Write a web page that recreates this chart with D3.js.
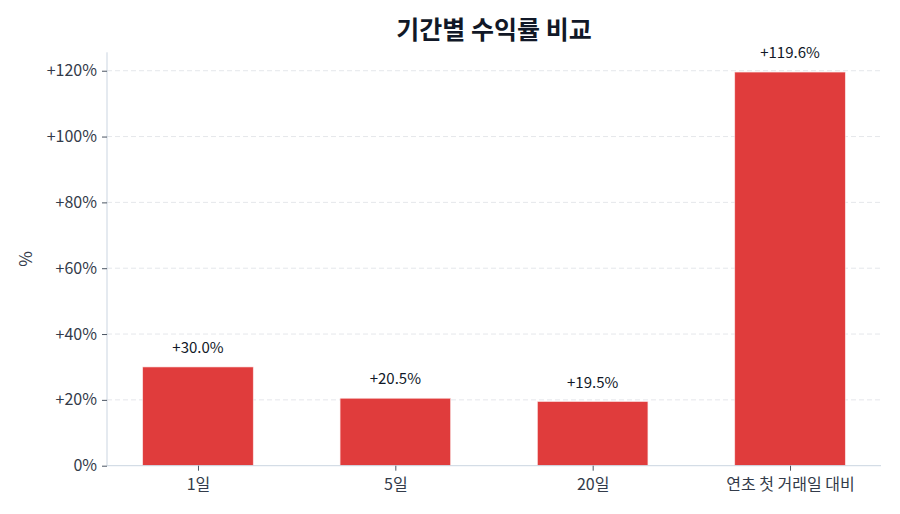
<!DOCTYPE html>
<html><head><meta charset="utf-8">
<script src="https://cdn.jsdelivr.net/npm/d3@7"></script>
<style>
html,body{margin:0;padding:0;background:#fff;}
svg{display:block;font-family:"Noto Sans CJK KR","Noto Sans",sans-serif;}
</style></head>
<body>
<svg id="chart" width="900" height="514"></svg>
<script>
const categories = ["1일", "5일", "20일", "연초 첫 거래일 대비"];
const returns = [30.0, 20.5, 19.5, 119.6];
const yTicks = [0, 20, 40, 60, 80, 100, 120];
const titleText = "기간별 수익률 비교";
const yLabel = "%";

(function () {
const svg = d3.select("#chart");
const mL = 107, mR = 881, mT = 52.3, mB = 465.7;

const x = d3.scaleLinear().domain([-0.461, categories.length - 1 + 0.461]).range([mL, mR]);
const y = d3.scaleLinear().domain([0, 125.6]).range([mB, mT]);
const barW = 0.56;

// grid
svg.append("g").selectAll("line").data(yTicks.filter(d => d > 0)).join("line")
  .attr("x1", mL).attr("x2", mR)
  .attr("y1", d => y(d)).attr("y2", d => y(d))
  .attr("stroke", "#e5e7eb").attr("stroke-width", 1).attr("stroke-dasharray", "5,3");

// bars
svg.append("g").selectAll("rect").data(returns).join("rect")
  .attr("x", (d, i) => x(i - barW / 2))
  .attr("width", (d, i) => x(i + barW / 2) - x(i - barW / 2))
  .attr("y", d => y(d))
  .attr("height", d => y(0) - y(d))
  .attr("fill", "#e03c3c")
  .attr("stroke", "#fbe4e4").attr("stroke-width", 0.6);

// value labels
svg.append("g").selectAll("text").data(returns).join("text")
  .attr("x", (d, i) => x(i))
  .attr("y", d => y(d) - 14)
  .attr("text-anchor", "middle")
  .attr("font-size", 15)
  .attr("fill", "#111827")
  .text(d => "+" + d.toFixed(1) + "%");

// y axis
const yAxis = d3.axisLeft(y).tickValues(yTicks).tickSize(5).tickPadding(5)
  .tickFormat(d => (d === 0 ? "" : "+") + d + "%");
const gy = svg.append("g").attr("transform", `translate(${mL},0)`).call(yAxis);
gy.select(".domain").attr("stroke", "#cbd5e1").attr("d", `M0,${mT}V${mB}`);
gy.selectAll(".tick line").attr("stroke", "#4b5563");
gy.selectAll(".tick text").attr("font-size", 16).attr("fill", "#333b4a")
  .attr("font-family", "\"Noto Sans CJK KR\",\"Noto Sans\",sans-serif");

// x axis
const xAxis = d3.axisBottom(x).tickValues(d3.range(categories.length)).tickSize(5).tickPadding(8)
  .tickFormat(i => categories[i]);
const gx = svg.append("g").attr("transform", `translate(0,${mB})`).call(xAxis);
gx.select(".domain").attr("stroke", "#cbd5e1").attr("d", `M${mL},0H${mR}`);
gx.selectAll(".tick line").attr("stroke", "#4b5563");
gx.selectAll(".tick text").attr("font-size", 16).attr("fill", "#333b4a")
  .attr("font-family", "\"Noto Sans CJK KR\",\"Noto Sans\",sans-serif");

// y label
svg.append("text")
  .attr("transform", `translate(32,${(mT + mB) / 2}) rotate(-90)`)
  .attr("text-anchor", "middle")
  .attr("font-size", 17).attr("fill", "#333b4a")
  .text(yLabel);

// title
svg.append("text")
  .attr("x", (mL + mR) / 2).attr("y", 39)
  .attr("text-anchor", "middle")
  .attr("font-size", 25).attr("font-weight", "bold").attr("fill", "#111827")
  .text(titleText);
})();
</script>
</body></html>
